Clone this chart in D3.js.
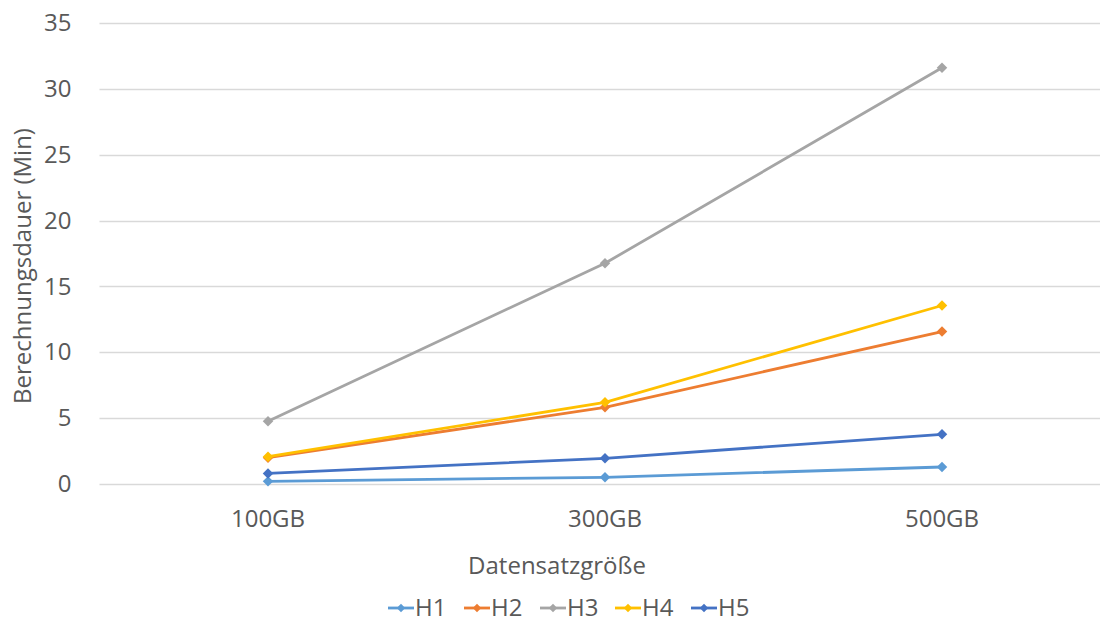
<!DOCTYPE html>
<html lang="de">
<head>
<meta charset="UTF-8" />
<title>Berechnungsdauer</title>
<script src="https://cdn.jsdelivr.net/npm/d3@7/dist/d3.min.js"></script>
<style>
  body { margin: 0; background: #fff; }
  text { font-family: "Open Sans", sans-serif; fill: #595959; }
</style>
</head>
<body>
<div id="chart"></div>
<script>
  // data
  var categories = ["100GB", "300GB", "500GB"];
  var seriesNames = ["H1", "H2", "H3", "H4", "H5"];
  var h1 = [0.2, 0.51, 1.29];
  var h2 = [2.0, 5.82, 11.57];
  var h3 = [4.76, 16.76, 31.6];
  var h4 = [2.07, 6.2, 13.55];
  var h5 = [0.8, 1.95, 3.77];
  var yTicks = [0, 5, 10, 15, 20, 25, 30, 35];
  var colors = ["#5B9BD5", "#ED7D31", "#A5A5A5", "#FFC000", "#4472C4"];

  var series = [h1, h2, h3, h4, h5].map(function(vals, i){
    return { name: seriesNames[i], color: colors[i], values: vals };
  });

  var width = 1100, height = 623;
  var plot = { left: 99.5, right: 1110.5, top: 23, bottom: 484 };
  var fontSize = "24px";

  var svg = d3.select("#chart").append("svg")
    .attr("width", width)
    .attr("height", height);

  var xScale = d3.scaleBand()
    .domain(categories)
    .range([plot.left, plot.right]);

  var yScale = d3.scaleLinear()
    .domain([0, 35])
    .range([plot.bottom, plot.top]);

  // gridlines
  svg.append("g")
    .selectAll("line")
    .data(yTicks)
    .enter()
    .append("line")
    .attr("x1", plot.left)
    .attr("x2", plot.right)
    .attr("y1", function(d){ return Math.round(yScale(d)) + 0.5; })
    .attr("y2", function(d){ return Math.round(yScale(d)) + 0.5; })
    .attr("stroke", "#D9D9D9")
    .attr("stroke-width", 1.3);

  // y axis labels
  var yAxis = d3.axisLeft(yScale).tickValues(yTicks).tickSize(0).tickPadding(28);
  var gy = svg.append("g")
    .attr("transform", "translate(" + plot.left + ",0)")
    .call(yAxis);
  gy.select(".domain").remove();
  gy.selectAll("text")
    .attr("font-size", fontSize)
    .attr("font-family", "'Open Sans', sans-serif")
    .attr("fill", "#595959");

  // x axis labels
  var xAxis = d3.axisBottom(xScale).tickSize(0).tickPadding(26);
  var gx = svg.append("g")
    .attr("transform", "translate(0," + plot.bottom + ")")
    .call(xAxis);
  gx.select(".domain").remove();
  gx.selectAll("text")
    .attr("font-size", fontSize)
    .attr("font-family", "'Open Sans', sans-serif")
    .attr("fill", "#595959");

  // axis titles
  svg.append("text")
    .attr("x", 557)
    .attr("y", 574)
    .attr("text-anchor", "middle")
    .attr("font-size", fontSize)
    .text("Datensatzgröße");

  svg.append("text")
    .attr("transform", "translate(31,266) rotate(-90)")
    .attr("text-anchor", "middle")
    .attr("font-size", fontSize)
    .text("Berechnungsdauer (Min)");

  var xPos = function(i){ return xScale(categories[i]) + xScale.bandwidth() / 2; };

  var line = d3.line()
    .x(function(d, i){ return xPos(i); })
    .y(function(d){ return yScale(d); });

  var diamond = d3.symbol().type(d3.symbolDiamond2).size(70);

  series.forEach(function(s){
    var g = svg.append("g");
    g.append("path")
      .datum(s.values)
      .attr("d", line)
      .attr("fill", "none")
      .attr("stroke", s.color)
      .attr("stroke-width", 2.8)
      .attr("stroke-linejoin", "round");
    g.selectAll("path.pt")
      .data(s.values)
      .enter()
      .append("path")
      .attr("class", "pt")
      .attr("d", diamond)
      .attr("transform", function(d, i){ return "translate(" + xPos(i) + "," + yScale(d) + ")"; })
      .attr("fill", s.color);
  });

  // legend
  var legendX = [388, 464, 540, 615, 691];
  var legend = svg.append("g");
  series.forEach(function(s, i){
    var lg = legend.append("g").attr("transform", "translate(" + legendX[i] + ",608)");
    lg.append("line")
      .attr("x1", 0).attr("x2", 26)
      .attr("y1", 0).attr("y2", 0)
      .attr("stroke", s.color)
      .attr("stroke-width", 2.8);
    lg.append("path")
      .attr("d", d3.symbol().type(d3.symbolDiamond2).size(45))
      .attr("transform", "translate(13,0)")
      .attr("fill", s.color);
    lg.append("text")
      .attr("x", 27)
      .attr("y", 8)
      .attr("font-size", fontSize)
      .text(s.name);
  });
</script>
</body>
</html>
